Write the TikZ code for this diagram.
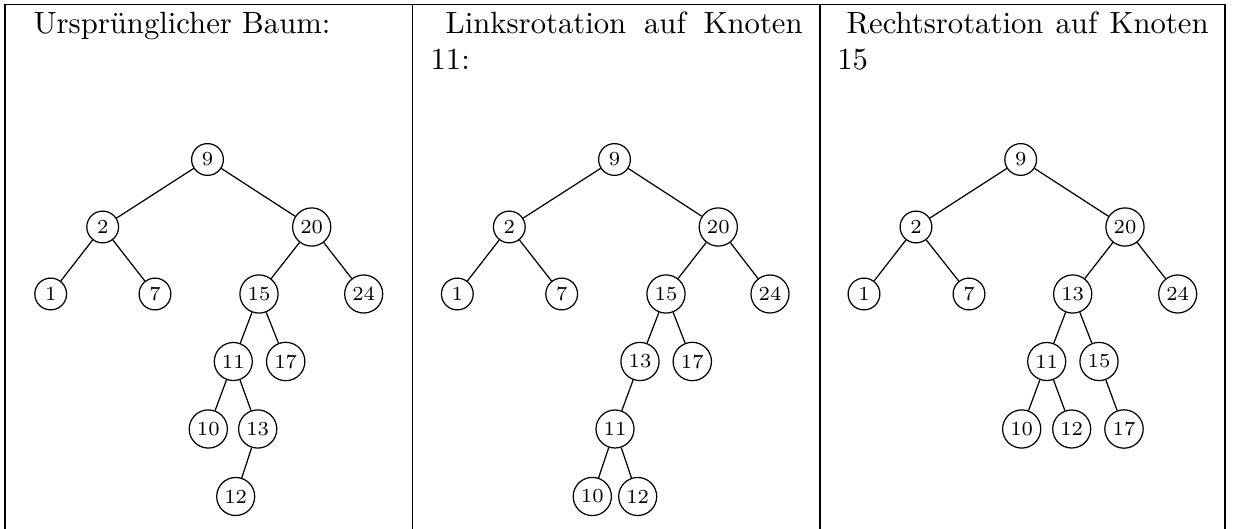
\documentclass[tikz,border=0pt]{standalone}
\tikzset{
  knoten/.style={shape=circle,draw=black,inner sep=1.38pt,minimum size=10.35pt,font=\fontsize{6.5}{8}\selectfont},
  kopf/.style={anchor=base west,inner sep=0pt}
}
\begin{document}
\begin{tikzpicture}[x=0.3257pt,y=-0.3257pt]
  \useasboundingbox (0,0) rectangle (1233,529);

  % Tabellenrahmen
  \draw (5,4.3) -- (1225,4.3);
  \draw (5,4.3) -- (5,529);
  \draw (412.5,4.3) -- (412.5,529);
  \draw (820,4.3) -- (820,529);
  \draw (1225,4.3) -- (1225,529);

  % Ueberschriften
  \node[kopf] (h1) at (33,33.3) {Ursprünglicher Baum:};
  \node[kopf] (h2) at (445,33.3) {\makebox[116.3pt][s]{Linksrotation auf Knoten}};
  \node[kopf] (h2b) at (430,70) {11:};
  \node[kopf] (h3) at (846,33.3) {\makebox[117.9pt][s]{Rechtsrotation auf Knoten}};
  \node[kopf] (h3b) at (836.7,70) {15};

  % urspruenglicher Baum
  \node[knoten] (a9) at (207.5,159.5) {9};
  \node[knoten] (a2) at (102.7,227) {2};
  \node[knoten] (a20) at (311.7,227) {20};
  \node[knoten] (a1) at (50.7,294) {1};
  \node[knoten] (a7) at (155,294) {7};
  \node[knoten] (a15) at (259,294) {15};
  \node[knoten] (a24) at (363.7,294) {24};
  \node[knoten] (a11) at (233.3,361.5) {11};
  \node[knoten] (a17) at (285.7,361.5) {17};
  \node[knoten] (a10) at (208.3,429) {10};
  \node[knoten] (a13) at (257.7,429) {13};
  \node[knoten] (a12) at (235.7,496.5) {12};

  \path (a9) edge (a2) edge (a20);
  \path (a2) edge (a1) edge (a7);
  \path (a20) edge (a15) edge (a24);
  \path (a15) edge (a11) edge (a17);
  \path (a11) edge (a10) edge (a13);
  \path (a13) edge (a12);

  % nach Linksrotation auf 11
  \node[knoten] (b9) at (614.5,159.5) {9};
  \node[knoten] (b2) at (509.3,227) {2};
  \node[knoten] (b20) at (718.3,227) {20};
  \node[knoten] (b1) at (457.3,294) {1};
  \node[knoten] (b7) at (561.7,294) {7};
  \node[knoten] (b15) at (666,294) {15};
  \node[knoten] (b24) at (770,294) {24};
  \node[knoten] (b13) at (640,361.5) {13};
  \node[knoten] (b17) at (692.3,361.5) {17};
  \node[knoten] (b11) at (615,429) {11};
  \node[knoten] (b10) at (592.3,496.5) {10};
  \node[knoten] (b12) at (637.7,496.5) {12};

  \path (b9) edge (b2) edge (b20);
  \path (b2) edge (b1) edge (b7);
  \path (b20) edge (b15) edge (b24);
  \path (b15) edge (b13) edge (b17);
  \path (b13) edge (b11);
  \path (b11) edge (b10) edge (b12);

  % nach Rechtsrotation auf 15
  \node[knoten] (c9) at (1020.7,159.5) {9};
  \node[knoten] (c2) at (916,227) {2};
  \node[knoten] (c20) at (1125,227) {20};
  \node[knoten] (c1) at (864,294) {1};
  \node[knoten] (c7) at (969,294) {7};
  \node[knoten] (c13) at (1072.7,294) {13};
  \node[knoten] (c24) at (1177.7,294) {24};
  \node[knoten] (c11) at (1046.7,361.5) {11};
  \node[knoten] (c15) at (1099,361.5) {15};
  \node[knoten] (c10) at (1021.7,429) {10};
  \node[knoten] (c12) at (1071.7,429) {12};
  \node[knoten] (c17) at (1124,429) {17};

  \path (c9) edge (c2) edge (c20);
  \path (c2) edge (c1) edge (c7);
  \path (c20) edge (c13) edge (c24);
  \path (c13) edge (c11) edge (c15);
  \path (c11) edge (c10) edge (c12);
  \path (c15) edge (c17);
\end{tikzpicture}
\end{document}
